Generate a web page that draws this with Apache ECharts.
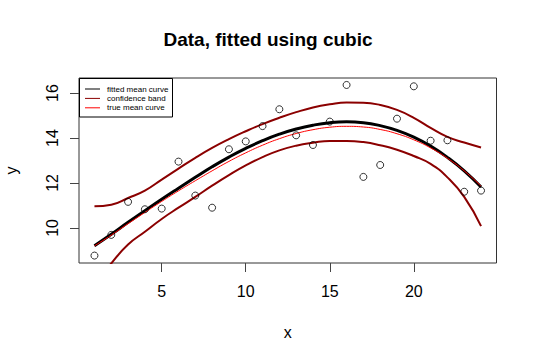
<!DOCTYPE html>
<html>
<head>
<meta charset="utf-8">
<script src="https://cdn.jsdelivr.net/npm/echarts@6/dist/echarts.min.js"></script>
<style>
html,body{margin:0;padding:0;background:#fff;}
#chart{width:536px;height:361px;}
</style>
</head>
<body>
<div id="chart"></div>
<script>
const xs = [1,2,3,4,5,6,7,8,9,10,11,12,13,14,15,16,17,18,19,20,21,22,23,24];
const yObs = [8.77,9.69,11.16,10.83,10.86,12.95,11.44,10.9,13.5,13.85,14.53,15.28,14.12,13.69,14.73,16.36,12.27,12.8,14.86,16.3,13.88,13.9,11.61,11.66];
const fitted = [9.21,9.72,10.25,10.77,11.28,11.77,12.25,12.72,13.15,13.54,13.88,14.17,14.4,14.57,14.68,14.72,14.68,14.55,14.34,14.04,13.64,13.14,12.54,11.82];
const upper = [10.96,11.03,11.33,11.66,12.15,12.64,13.12,13.56,13.95,14.3,14.62,14.9,15.15,15.36,15.5,15.58,15.57,15.47,15.25,14.9,14.45,14.05,13.8,13.58];
const lower = [7.46,8.42,9.26,9.83,10.4,10.9,11.38,11.88,12.35,12.78,13.15,13.45,13.66,13.79,13.87,13.87,13.82,13.68,13.48,13.2,12.85,12.25,11.38,10.08];
const trueMean = [9.2,9.68,10.19,10.69,11.18,11.65,12.1,12.54,12.96,13.34,13.68,13.97,14.2,14.37,14.48,14.52,14.49,14.38,14.19,13.92,13.56,13.1,12.54,11.86];
const xTicks = [5,10,15,20];
const yTicks = [10,12,14,16];
const titleText = 'Data, fitted using cubic';
const legendNames = ['fitted mean curve','confidence band','true mean curve'];

const pairs = arr => xs.map((x,i)=>[x,arr[i]]);
const FONT = '"Liberation Sans", Arial, Helvetica, sans-serif';

const chart = echarts.init(document.getElementById('chart'), null, {renderer:'svg'});
chart.setOption({
  animation:false,
  backgroundColor:'#fff',
  title:{text:titleText,left:'center',top:25,textStyle:{fontFamily:FONT,fontSize:19,fontWeight:'bold',color:'#000'}},
  grid:{left:79,right:39.5,top:78,bottom:98,containLabel:false,outerBoundsMode:'none',
    show:true,borderColor:'#333',borderWidth:1,backgroundColor:'transparent'},
  xAxis:{type:'value',min:0.08,max:24.92,name:'x',nameLocation:'middle',nameGap:61,
    nameTextStyle:{fontFamily:FONT,fontSize:16,color:'#000'},
    axisLine:{show:false},splitLine:{show:false},
    axisTick:{show:true,length:9,lineStyle:{color:'#444'},customValues:xTicks},
    axisLabel:{margin:20,fontFamily:FONT,fontSize:16,color:'#000',customValues:xTicks}},
  yAxis:{type:'value',min:8.44,max:16.67,name:'y',nameLocation:'middle',nameGap:60,nameRotate:90,
    nameTextStyle:{fontFamily:FONT,fontSize:16,color:'#000'},
    axisLine:{show:false},splitLine:{show:false},
    axisTick:{show:true,length:9,lineStyle:{color:'#444'},customValues:yTicks},
    axisLabel:{margin:19,rotate:90,fontFamily:FONT,fontSize:16,color:'#000',customValues:yTicks}},
  legend:{orient:'vertical',left:85,top:84.3,padding:0,itemGap:0,itemWidth:15,itemHeight:1,
    textStyle:{fontFamily:FONT,fontSize:8,lineHeight:9.4,color:'#000',padding:[0,0,0,2]},
    data:[
      {name:legendNames[0],icon:'rect',itemStyle:{color:'#000'},textStyle:{color:'#000'}},
      {name:legendNames[1],icon:'rect',itemStyle:{color:'#8B0000'},textStyle:{color:'#000'}},
      {name:legendNames[2],icon:'rect',itemStyle:{color:'#FF0000'},textStyle:{color:'#000'}}
    ]},
  graphic:[{type:'rect',shape:{x:79.5,y:78.5,width:93,height:38.5},style:{fill:'none',stroke:'#000',lineWidth:1},z:100}],
  series:[
    {type:'scatter',name:'data',data:pairs(yObs),symbol:'circle',symbolSize:7,
      itemStyle:{color:'rgba(0,0,0,0)',borderColor:'#000',borderWidth:1},z:5},
    {type:'line',name:legendNames[0],data:pairs(fitted),smooth:true,showSymbol:false,symbol:'none',
      lineStyle:{color:'#000',width:3},itemStyle:{color:'#000'},z:2},
    {type:'line',name:legendNames[1],data:pairs(upper),smooth:true,showSymbol:false,symbol:'none',
      lineStyle:{color:'#8B0000',width:2},itemStyle:{color:'#8B0000'},z:3},
    {type:'line',name:legendNames[1],data:pairs(lower),smooth:true,showSymbol:false,symbol:'none',
      lineStyle:{color:'#8B0000',width:2},itemStyle:{color:'#8B0000'},z:3},
    {type:'line',name:legendNames[2],data:pairs(trueMean),smooth:true,showSymbol:false,symbol:'none',
      lineStyle:{color:'#FF0000',width:1},itemStyle:{color:'#FF0000'},z:4}
  ]
});
</script>
</body>
</html>
